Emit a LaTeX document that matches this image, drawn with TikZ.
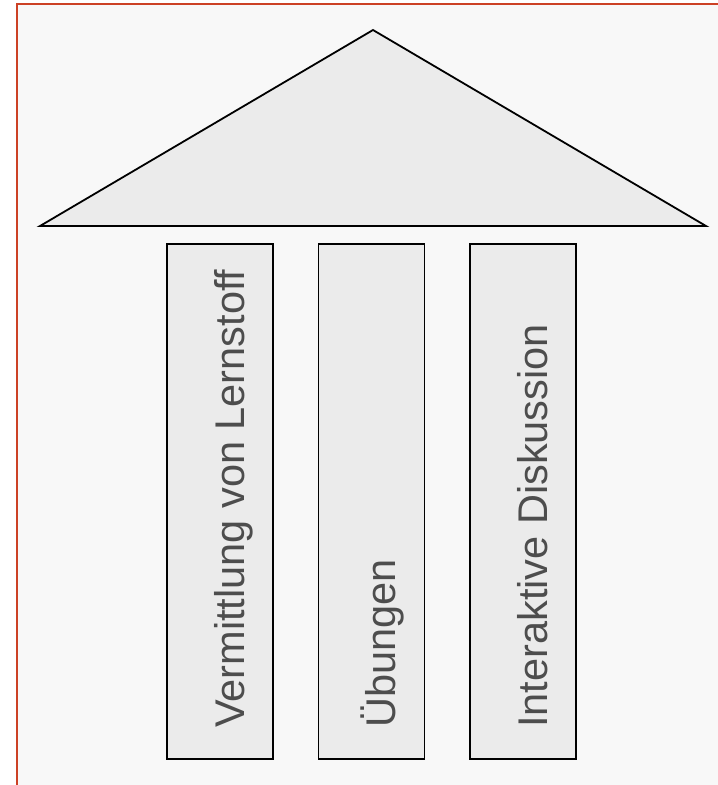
\documentclass[tikz,border=0pt]{standalone}
\usepackage{fontspec}
\setmainfont{Liberation Sans}
\definecolor{framered}{RGB}{204,65,37}
\definecolor{paper}{RGB}{248,248,248}
\definecolor{stone}{RGB}{235,235,235}
\definecolor{ink}{RGB}{77,77,77}

\begin{document}
\begin{tikzpicture}[x=1pt,y=-1pt,
    pillar/.style={draw=black, fill=stone, line width=1.8pt, minimum width=106pt, minimum height=515pt, inner sep=0pt},
    label/.style={rotate=90, anchor=base west, text=ink, inner sep=0pt, font=\fontsize{41.5}{50}\selectfont}]
    \useasboundingbox (0,0) rectangle (718,785);
    % draw background and frame
    \fill[white] (0,0) rectangle (718,785);
    \fill[paper] (16.5,4) rectangle (718,785);
    \draw[framered, line width=2pt] (16.5,785) -- (16.5,4) -- (718,4);
    % draw roof
    \coordinate (top) at (373,30);
    \coordinate (left) at (40,226);
    \coordinate (right) at (706,226);
    \draw[fill=stone, line width=1.8pt, line join=miter] (left) -- (top) -- (right) -- cycle;
    % draw pillars
    \node[pillar] (lernstoff) at (220,501.5) {};
    \node[pillar] (uebungen) at (371.5,501.5) {};
    \node[pillar] (diskussion) at (523,501.5) {};
    % pillar labels
    \node[label] (lernstofftext) at (244,728) {Vermittlung von Lernstoff};
    \node[label] (uebungentext) at (395,728) {Übungen};
    \node[label] (diskussiontext) at (547,728) {Interaktive Diskussion};
\end{tikzpicture}
\end{document}
